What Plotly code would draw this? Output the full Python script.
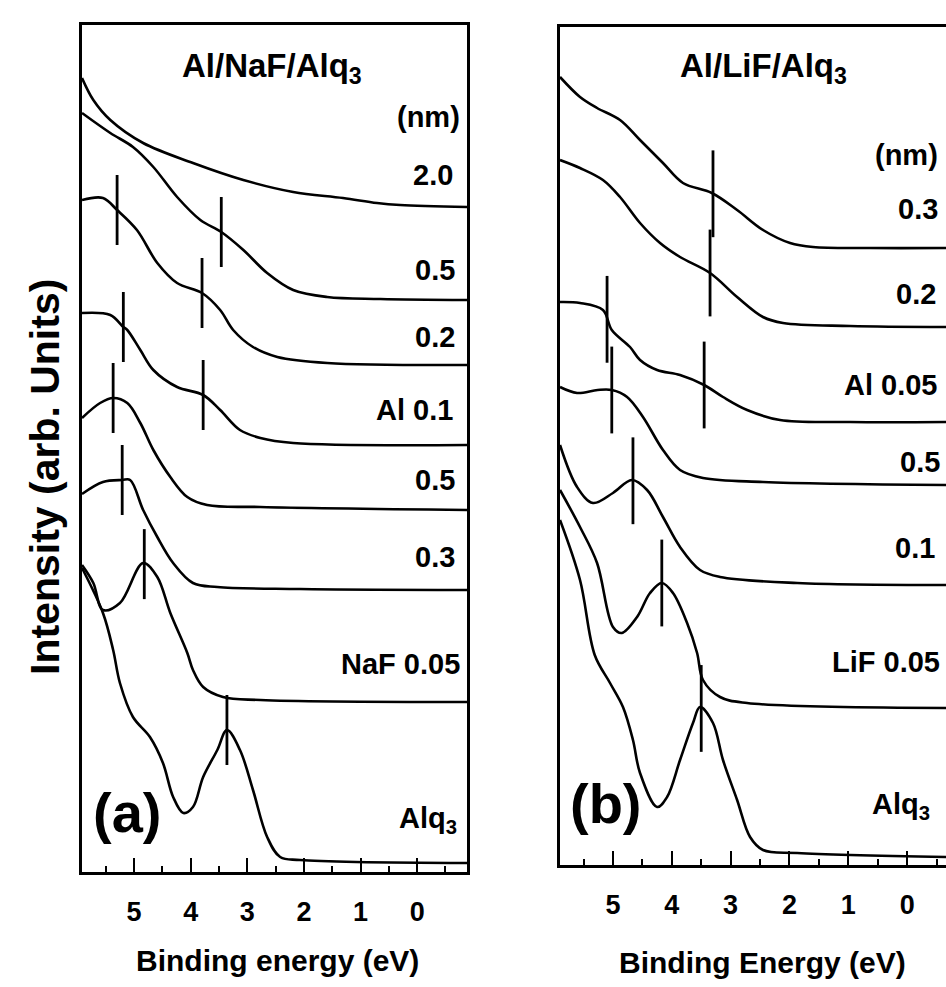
import numpy as np
import plotly.graph_objects as go

# ---------------- Panel (a): Al/NaF/Alq3 ----------------
A_LABELS = ["2.0", "0.5", "0.2", "Al 0.1", "0.5", "0.3", "NaF 0.05", "Alq<sub>3</sub>"]

A_E_20 = [5.92, 5.72, 5.42, 4.84, 3.96, 3.07, 2.19, 1.31, 0.71, 0.30, -0.88]
A_I_20 = [79.4, 77.2, 75.2, 72.9, 70.9, 69.2, 68.0, 67.4, 66.9, 66.7, 66.5]
A_M_20 = []

A_E_05u = [5.92, 5.42, 5.02, 4.66, 4.24, 3.83, 3.46, 3.07, 2.65, 2.19, 1.59, 0.65, -0.88]
A_I_05u = [75.9, 73.9, 72.5, 70.5, 67.5, 65.2, 64.0, 62.2, 59.9, 58.2, 57.5, 57.3, 57.2]
A_M_05u = [3.46]

A_E_02 = [5.92, 5.55, 5.30, 4.95, 4.59, 4.24, 3.80, 3.48, 3.25, 2.90, 2.47, 1.59, -0.88]
A_I_02 = [67.2, 67.4, 66.2, 64.2, 60.9, 58.9, 57.9, 56.2, 54.2, 52.5, 51.5, 50.9, 50.7]
A_M_02 = [5.30, 3.80]

A_E_01 = [5.92, 5.42, 5.19, 5.12, 4.89, 4.66, 4.24, 3.78, 3.48, 3.13, 2.77, 2.19, -0.88]
A_I_01 = [55.9, 55.7, 54.5, 54.2, 52.2, 50.2, 48.5, 47.7, 46.2, 44.2, 43.4, 42.9, 42.7]
A_M_01 = [5.19, 3.78]

A_E_05l = [5.92, 5.60, 5.37, 5.12, 4.89, 4.66, 4.36, 4.06, 3.71, 2.77, -0.88]
A_I_05l = [45.4, 46.9, 47.4, 46.9, 44.9, 42.2, 39.5, 37.5, 36.7, 36.5, 36.2]
A_M_05l = [5.37]

A_E_03 = [5.92, 5.55, 5.21, 5.07, 4.84, 4.59, 4.31, 3.96, 3.53, 2.07, -0.88]
A_I_03 = [37.8, 39.0, 39.2, 39.2, 36.2, 33.5, 30.9, 28.9, 28.5, 28.3, 28.2]
A_M_03 = [5.21]

A_E_naf = [5.92, 5.72, 5.55, 5.25, 4.84, 4.59, 4.36, 4.06, 3.96, 3.78, 3.43, 2.77, -0.88]
A_I_naf = [30.7, 28.9, 26.2, 26.9, 30.9, 29.5, 25.9, 21.9, 20.2, 18.5, 17.5, 17.2, 17.0]
A_M_naf = [4.82]

A_E_alq = [5.92, 5.55, 5.37, 5.25, 5.02, 4.72, 4.49, 4.31, 4.13, 3.96, 3.78, 3.53,
           3.36, 3.13, 2.90, 2.65, 2.42, 2.07, -0.88]
A_I_alq = [30.4, 25.9, 22.2, 18.9, 15.5, 13.5, 10.9, 7.5, 5.9, 6.5, 9.5, 12.2,
           14.2, 12.2, 8.2, 3.5, 1.5, 1.2, 0.9]
A_M_alq = [3.36]

# ---------------- Panel (b): Al/LiF/Alq3 ----------------
B_LABELS = ["0.3", "0.2", "Al 0.05", "0.5", "0.1", "LiF 0.05", "Alq<sub>3</sub>"]

B_E_03 = [5.90, 5.56, 5.27, 4.88, 4.54, 4.15, 3.81, 3.32, 2.89, 2.45, 1.99, 1.60, 0.63, -0.66]
B_I_03 = [78.8, 76.8, 75.7, 74.5, 72.5, 70.2, 68.2, 67.2, 65.5, 63.5, 62.2, 61.8, 61.7, 61.7]
B_M_03 = [3.30]

B_E_02 = [5.90, 5.56, 5.17, 4.88, 4.54, 4.20, 3.86, 3.35, 2.89, 2.45, 2.11, 0.97, -0.66]
B_I_02 = [70.5, 69.7, 68.5, 66.8, 64.2, 62.2, 60.8, 59.2, 56.8, 54.8, 54.2, 53.9, 53.8]
B_M_02 = [3.35]

B_E_al = [5.90, 5.56, 5.17, 5.02, 4.71, 4.54, 4.25, 3.86, 3.45, 3.13, 2.72, 2.16, 0.97, -0.66]
B_I_al = [56.3, 56.2, 55.5, 53.5, 51.8, 50.5, 49.5, 49.0, 48.0, 46.8, 45.5, 44.5, 44.3, 44.3]
B_M_al = [5.10, 3.45]

B_E_05 = [5.90, 5.61, 5.26, 5.02, 4.76, 4.49, 4.15, 3.86, 3.47, 2.45, -0.66]
B_I_05 = [47.8, 47.2, 47.5, 47.5, 46.8, 44.8, 41.5, 39.5, 38.7, 38.3, 38.0]
B_M_05 = [5.02]

B_E_01 = [5.90, 5.61, 5.34, 5.00, 4.68, 4.42, 4.15, 3.86, 3.52, 3.18, 1.87, -0.66]
B_I_01 = [42.0, 37.8, 36.2, 37.2, 38.5, 37.5, 34.8, 31.8, 29.5, 28.8, 28.2, 28.0]
B_M_01 = [4.66]

B_E_lif = [5.90, 5.56, 5.27, 5.00, 4.85, 4.59, 4.37, 4.17, 3.98, 3.74, 3.57, 3.47, 3.18, 2.72, -0.66]
B_I_lif = [37.5, 33.8, 30.2, 23.8, 23.2, 24.8, 27.2, 28.2, 27.2, 24.2, 21.2, 18.5, 16.8, 16.2, 15.7]
B_M_lif = [4.17]

B_E_alq = [5.90, 5.56, 5.31, 5.05, 4.83, 4.66, 4.54, 4.25, 4.08, 3.86, 3.64, 3.52,
           3.30, 3.13, 2.89, 2.67, 2.45, 1.87, -0.66]
B_I_alq = [34.5, 28.5, 21.0, 18.2, 15.8, 12.5, 9.2, 5.8, 6.8, 10.5, 14.2, 15.8,
           14.2, 10.5, 6.5, 2.8, 1.5, 1.2, 0.8]
B_M_alq = [3.50]

TICK_VALS = [5, 4, 3, 2, 1, 0]
TICK_TEXT = ["5", "4", "3", "2", "1", "0"]
MINOR_VALS = [5.5, 4.5, 3.5, 2.5, 1.5, 0.5, -0.5]

A_CURVES = [(A_E_20, A_I_20, A_M_20), (A_E_05u, A_I_05u, A_M_05u), (A_E_02, A_I_02, A_M_02),
            (A_E_01, A_I_01, A_M_01), (A_E_05l, A_I_05l, A_M_05l), (A_E_03, A_I_03, A_M_03),
            (A_E_naf, A_I_naf, A_M_naf), (A_E_alq, A_I_alq, A_M_alq)]
B_CURVES = [(B_E_03, B_I_03, B_M_03), (B_E_02, B_I_02, B_M_02), (B_E_al, B_I_al, B_M_al),
            (B_E_05, B_I_05, B_M_05), (B_E_01, B_I_01, B_M_01), (B_E_lif, B_I_lif, B_M_lif),
            (B_E_alq, B_I_alq, B_M_alq)]

W, H = 946, 987
FONT = "Liberation Sans, Arial, sans-serif"

def px(x):
    return x / W

def py(y):
    return 1 - y / H

fig = go.Figure()

def add_panel(curves, xa, ya, msize):
    for e, i, marks in curves:
        fig.add_trace(go.Scatter(x=e, y=i, mode="lines", xaxis=xa, yaxis=ya,
                                 line=dict(color="black", width=2.6, shape="spline", smoothing=1.0),
                                 showlegend=False, hoverinfo="skip"))
        if marks:
            ee = np.array(e)[::-1]
            ii = np.array(i)[::-1]
            my = np.interp(marks, ee, ii)
            fig.add_trace(go.Scatter(x=marks, y=my, mode="markers", xaxis=xa, yaxis=ya,
                                     marker=dict(symbol="line-ns", size=msize,
                                                 line=dict(color="black", width=2.8)),
                                     showlegend=False, hoverinfo="skip"))

add_panel(A_CURVES, "x", "y", 50)
add_panel(B_CURVES, "x2", "y2", 62)

axis_common = dict(showgrid=False, zeroline=False, showline=True, linecolor="black", linewidth=3)
tick_text_bold = [f"<b>{t}</b>" for t in TICK_TEXT]

fig.update_layout(
    width=W, height=H, margin=dict(l=0, r=0, t=0, b=0),
    paper_bgcolor="white", plot_bgcolor="white",
    font=dict(family=FONT, color="black"),
    xaxis=dict(domain=[px(82), px(467)], range=[5.92, -0.88], mirror=True,
               tickmode="array", tickvals=TICK_VALS, ticktext=tick_text_bold,
               ticks="inside", ticklen=14, tickwidth=2, tickcolor="black",
               minor=dict(tickmode="array", tickvals=MINOR_VALS, ticks="inside",
                          ticklen=6, tickwidth=2, tickcolor="black"),
               tickfont=dict(size=27, family=FONT), ticklabelstandoff=14,
               anchor="y", **axis_common),
    yaxis=dict(domain=[py(872), py(25)], range=[0, 84.7], mirror=True,
               showticklabels=False, ticks="", anchor="x", **axis_common),
    xaxis2=dict(domain=[px(560), 1.0], range=[5.90, -0.66], mirror=True,
                tickmode="array", tickvals=TICK_VALS, ticktext=tick_text_bold,
                ticks="inside", ticklen=14, tickwidth=2, tickcolor="black",
                minor=dict(tickmode="array", tickvals=MINOR_VALS, ticks="inside",
                           ticklen=6, tickwidth=2, tickcolor="black"),
                tickfont=dict(size=27, family=FONT), ticklabelstandoff=14,
                anchor="y2", **axis_common),
    yaxis2=dict(domain=[py(865), py(27)], range=[0, 83.8], mirror=False,
                showticklabels=False, ticks="", anchor="x2", **axis_common),
)

ann = []

def add_text(text, x, y, size, xanchor="center", bold=True, angle=0):
    t = f"<b>{text}</b>" if bold else text
    ann.append(dict(text=t, x=px(x), y=py(y), xref="paper", yref="paper",
                    xanchor=xanchor, yanchor="middle", showarrow=False, textangle=angle,
                    font=dict(size=size, family=FONT, color="black")))

# panel (a) texts
add_text("Al/NaF/Alq<sub>3</sub>", 272, 68, 33)
add_text("(nm)", 462, 117, 29, "right")
A_LABEL_POS = [(455, 175), (457, 270), (457, 337), (455, 410), (457, 480), (457, 557), (462, 664), (459, 820)]
for lab, (x, y) in zip(A_LABELS, A_LABEL_POS):
    add_text(lab, x, y, 29, "right")
add_text("(a)", 127, 812, 56)

# panel (b) texts
add_text("Al/LiF/Alq<sub>3</sub>", 763, 68, 33)
add_text("(nm)", 940, 155, 29, "right")
B_LABEL_POS = [(940, 209), (938, 294), (940, 385), (942, 462), (937, 548), (942, 662), (932, 806)]
for lab, (x, y) in zip(B_LABELS, B_LABEL_POS):
    add_text(lab, x, y, 29, "right")
add_text("(b)", 606, 803, 56)

# axis titles
add_text("Binding energy (eV)", 277, 960, 30)
add_text("Binding Energy (eV)", 762, 962, 30)
add_text("Intensity (arb. Units)", 45, 477, 41, angle=-90)

fig.update_layout(annotations=ann)

fig.write_html("out.html", config={"displayModeBar": False, "staticPlot": True},
               post_script="document.body.style.margin='0';document.body.style.overflow='hidden';")
